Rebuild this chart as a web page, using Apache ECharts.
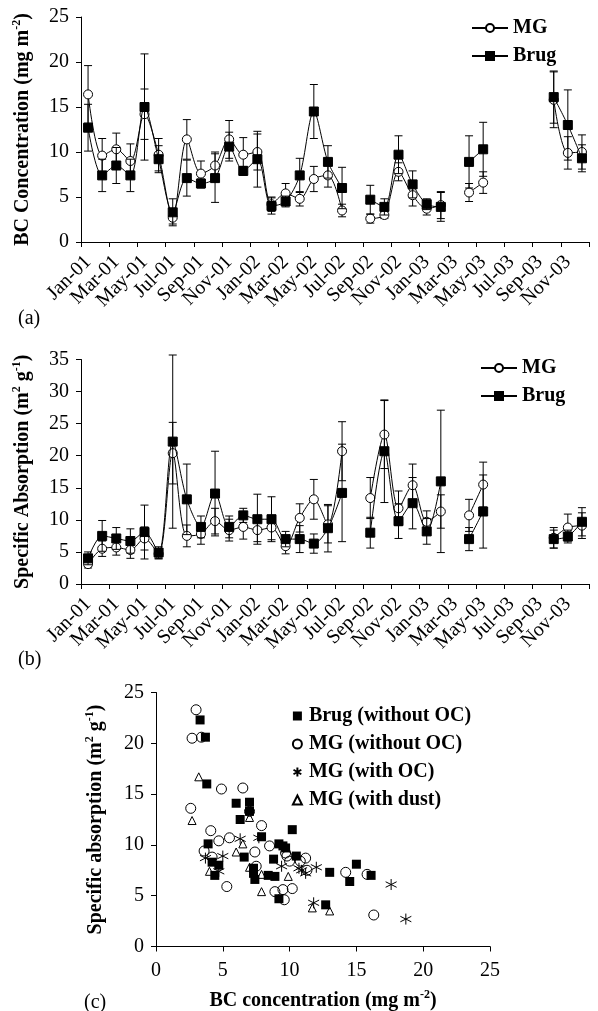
<!DOCTYPE html>
<html><head><meta charset="utf-8">
<script src="https://cdn.jsdelivr.net/npm/echarts@6/dist/echarts.min.js"></script>
<style>html,body{margin:0;padding:0;background:#fff}#c{width:598px;height:1011px}</style>
</head><body><div id="c"></div>
<script>
// ---------- data ----------
const months = ['Jan-01','Feb-01','Mar-01','Apr-01','May-01','Jun-01','Jul-01','Aug-01','Sep-01','Oct-01','Nov-01','Dec-01',
  'Jan-02','Feb-02','Mar-02','Apr-02','May-02','Jun-02','Jul-02','Aug-02','Sep-02','Oct-02','Nov-02','Dec-02',
  'Jan-03','Feb-03','Mar-03','Apr-03','May-03','Jun-03','Jul-03','Aug-03','Sep-03','Oct-03','Nov-03','Dec-03'];

// (a) BC concentration (mg m-2)
const mgBC      = [16.4,9.6,10.3,9.0,14.2,9.7,2.7,11.4,7.6,8.5,11.4,9.7, 10.0,4.2,5.4,4.8,7.0,7.4,3.5,null,2.6,3.0,7.8,5.2, 3.7,4.1,null,5.5,6.6,null,null,null,null,15.8,9.9,10.0];
const mgBCErr   = [3.2,1.9,1.8,1.9,2.8,1.8,0.7,2.2,1.4,1.5,2.1,1.9, 2.0,0.8,1.1,0.8,1.4,1.3,0.7,null,0.5,0.4,1.0,1.2, 0.7,1.5,null,1.0,1.2,null,null,null,null,3.1,1.8,1.9];
const brugBC    = [12.7,7.4,8.5,7.4,15.0,9.2,3.3,7.1,6.5,7.1,10.6,7.9, 9.2,4.0,4.5,7.4,14.5,8.9,6.0,null,4.7,3.9,9.7,6.4, 4.2,3.9,null,8.9,10.3,null,null,null,null,16.1,13.0,9.3];
const brugBCErr = [2.6,1.8,2.0,1.8,5.9,1.5,1.5,2.0,0.5,2.7,1.6,0.5, 3.1,0.9,0.6,1.9,3.0,1.8,2.3,null,1.6,0.9,2.1,1.5, 0.6,1.6,null,2.9,3.0,null,null,null,null,2.9,3.9,1.5];

// (b) specific absorption (m2 g-1)
const mgSA      = [3.1,5.5,5.7,5.3,7.1,4.7,20.4,7.5,7.8,9.8,8.4,8.9, 8.4,8.8,5.9,10.3,13.2,9.3,20.7,null,13.4,23.3,11.8,15.4, 9.7,11.3,null,10.7,15.5,null,null,null,null,7.2,8.8,9.1];
const mgSAErr   = [0.6,1.2,1.2,1.3,1.8,0.8,4.8,1.7,1.6,2.0,1.7,1.9, 1.8,1.9,1.2,2.2,3.1,2.9,4.6,null,3.2,5.3,2.7,3.3, 1.7,2.6,null,2.5,3.5,null,null,null,null,1.6,2.1,2.0];
const brugSA    = [4.0,7.5,7.1,6.7,8.1,4.9,22.2,13.2,8.9,14.1,8.9,10.7, 10.1,10.1,7.0,7.0,6.3,8.7,14.2,null,8.0,20.7,9.8,12.6, 8.2,16.0,null,7.0,11.3,null,null,null,null,7.0,7.4,9.7];
const brugSAErr = [1.0,2.4,1.7,1.9,4.2,0.9,13.5,5.5,1.7,6.6,1.7,1.1, 3.9,3.5,1.2,2.1,1.5,3.7,7.6,null,2.4,8.0,2.7,4.0, 2.0,11.1,null,1.8,5.7,null,null,null,null,1.4,1.0,2.2];

// (c) scatter: [BC concentration, specific absorption]
const brugNoOC = [[3.3,22.3],[3.7,20.6],[3.8,16.0],[6.0,14.1],[7.0,14.2],[6.3,12.5],[7.0,13.3],[10.2,11.5],[7.9,10.8],[3.9,10.1],
  [9.2,10.1],[9.7,9.7],[9.5,9.9],[6.6,8.8],[10.5,8.9],[4.2,8.3],[8.8,8.6],[4.7,8.0],[4.4,7.0],[7.3,7.7],[7.3,7.2],[7.4,6.6],
  [8.4,7.0],[8.9,6.9],[9.2,4.7],[13.0,7.3],[12.7,4.1],[14.5,6.4],[15.0,8.1],[16.1,7.0]];
const mgNoOC = [[3.0,23.3],[2.7,20.5],[3.4,20.6],[4.9,15.5],[6.5,15.6],[2.6,13.6],[7.0,13.3],[7.9,11.9],[4.1,11.4],[4.7,10.4],
  [5.5,10.7],[3.6,9.4],[7.4,9.3],[8.5,9.9],[4.2,8.8],[9.7,9.2],[10.0,8.4],[11.2,8.7],[11.3,7.5],[7.5,7.9],[5.3,5.9],[8.9,5.4],
  [9.5,5.6],[10.2,5.7],[9.6,4.6],[14.2,7.3],[15.8,7.1],[16.3,3.1],[9.8,8.9],[10.8,8.4]];
const mgWithOC = [[6.3,10.6],[7.7,10.7],[3.7,8.7],[5.0,8.9],[4.7,7.4],[9.4,7.9],[10.7,7.7],[10.9,7.5],[11.2,7.2],[12.0,7.8],
  [11.8,4.3],[17.6,6.1],[18.7,2.7]];
const mgWithDust = [[3.2,16.7],[2.7,12.4],[7.0,12.7],[6.5,10.1],[6.0,9.3],[4.0,7.4],[7.0,7.8],[7.9,7.1],[7.9,5.4],[9.9,6.9],
  [11.7,3.8],[13.0,3.5]];

const yTicksA = [0,25,5], yTicksB = [0,35,5], xTicksC = [0,25,5], yTicksC = [0,25,5];

// ---------- helpers ----------
const SERIF = "'Liberation Serif','Times New Roman',serif";
const BLACK = '#000';
function errData(vals, errs) {
  const out = [];
  vals.forEach((v, i) => { if (v != null && errs[i] != null) out.push([i, v - errs[i], v + errs[i]]); });
  return out;
}
function errRender(params, api) {
  const x = api.value(0), lo = api.value(1), hi = api.value(2);
  const a = api.coord([x, lo]), b = api.coord([x, hi]);
  const w = 4, st = {stroke: BLACK, lineWidth: 1, fill: null};
  return {type: 'group', children: [
    {type: 'line', shape: {x1: a[0], y1: a[1], x2: b[0], y2: b[1]}, style: st},
    {type: 'line', shape: {x1: a[0]-w, y1: a[1], x2: a[0]+w, y2: a[1]}, style: st},
    {type: 'line', shape: {x1: b[0]-w, y1: b[1], x2: b[0]+w, y2: b[1]}, style: st}
  ]};
}
const sup = {
  b: {fontFamily: SERIF, fontSize: 20, fontWeight: 'bold', color: BLACK, lineHeight: 24},
  s: {fontFamily: SERIF, fontSize: 12, fontWeight: 'bold', color: BLACK, lineHeight: 12, verticalAlign: 'top'}
};
const axisLine = {show: true, lineStyle: {color: BLACK, width: 1}};
const axisTick = {show: true, length: 5, lineStyle: {color: BLACK, width: 1}};
const tickLabel = {color: BLACK, fontFamily: SERIF, fontSize: 20};

function monthAxis(gridIndex) {
  return {
    type: 'category', gridIndex, data: months, boundaryGap: true,
    axisLine, axisTick: Object.assign({interval: 1}, axisTick),
    axisLabel: Object.assign({interval: 1, rotate: 45, margin: 17}, tickLabel),
    splitLine: {show: false}
  };
}
function valAxis(gridIndex, t, name, gap) {
  return {
    type: 'value', gridIndex, min: t[0], max: t[1], interval: t[2],
    axisLine, axisTick, axisLabel: Object.assign({margin: 12}, tickLabel),
    splitLine: {show: false},
    name, nameLocation: 'middle', nameGap: gap,
    nameTextStyle: {rich: sup}
  };
}
function lineSeries(name, data, xi, yi, mg) {
  return {
    type: 'line', name, data, xAxisIndex: xi, yAxisIndex: yi, smooth: 0.3, connectNulls: false,
    symbol: mg ? 'circle' : 'rect', symbolSize: 9, z: mg ? 3 : 5,
    itemStyle: mg ? {color: '#fff', borderColor: BLACK, borderWidth: 1, opacity: 1} : {color: BLACK, borderColor: BLACK, borderWidth: 1, opacity: 1},
    lineStyle: {color: BLACK, width: 1}
  };
}
function errSeries(data, xi, yi, z) {
  return {type: 'custom', data, xAxisIndex: xi, yAxisIndex: yi, renderItem: errRender,
    encode: {x: 0, y: [1, 2]}, z, silent: true};
}
const asterisk = 'path://M5,0L5,10M0.67,2.5L9.33,7.5M0.67,7.5L9.33,2.5';

const option = {
  animation: false,
  backgroundColor: '#fff',
  textStyle: {fontFamily: SERIF},
  title: [
    {text: '(a)', left: 13, top: 304, textStyle: {fontFamily: SERIF, fontSize: 20, fontWeight: 'normal', color: BLACK}},
    {text: '(b)', left: 13, top: 645, textStyle: {fontFamily: SERIF, fontSize: 20, fontWeight: 'normal', color: BLACK}},
    {text: '(c)', left: 79, top: 988, textStyle: {fontFamily: SERIF, fontSize: 20, fontWeight: 'normal', color: BLACK}}
  ],
  grid: [
    {left: 81, top: 17, width: 508, height: 225, containLabel: false, outerBoundsMode: 'none'},
    {left: 81, top: 359.5, width: 508, height: 224.5, containLabel: false, outerBoundsMode: 'none'},
    {left: 156, top: 692.5, width: 334, height: 254, containLabel: false, outerBoundsMode: 'none'}
  ],
  xAxis: [
    monthAxis(0), monthAxis(1),
    {type: 'value', gridIndex: 2, min: xTicksC[0], max: xTicksC[1], interval: xTicksC[2],
      axisLine, axisTick, axisLabel: Object.assign({margin: 14}, tickLabel), splitLine: {show: false},
      name: '{b|BC concentration (mg m}{s|-2}{b|)}', nameLocation: 'middle', nameGap: 42,
      nameTextStyle: {rich: sup}}
  ],
  yAxis: [
    valAxis(0, yTicksA, '{b|BC Concentration (mg m}{s|-2}{b|)}', 46),
    valAxis(1, yTicksB, '{b|Specific Absorption (m}{s|2}{b| g}{s|-1}{b|)}', 46),
    valAxis(2, yTicksC, '{b|Specific absorption (m}{s|2}{b| g}{s|-1}{b|)}', 48)
  ],
  legend: [
    {data: ['MG', 'Brug'], orient: 'vertical', left: 466, top: 13, itemWidth: 36, itemHeight: 10, itemGap: 8,
      selectedMode: false, textStyle: {fontFamily: SERIF, fontSize: 20, fontWeight: 'bold', color: BLACK}},
    {data: ['MG', 'Brug'], orient: 'vertical', left: 475, top: 353, itemWidth: 36, itemHeight: 10, itemGap: 8,
      selectedMode: false, textStyle: {fontFamily: SERIF, fontSize: 20, fontWeight: 'bold', color: BLACK}},
    {data: ['Brug (without OC)', 'MG (without OC)', 'MG (with OC)', 'MG (with dust)'], orient: 'vertical',
      left: 286, top: 701, itemWidth: 9, itemHeight: 9, itemGap: 8, selectedMode: false,
      textStyle: {fontFamily: SERIF, fontSize: 20, fontWeight: 'bold', color: BLACK, padding: [0, 0, 0, 2]}}
  ],
  series: [
    errSeries(errData(mgBC, mgBCErr), 0, 0, 2),
    lineSeries('MG', mgBC, 0, 0, true),
    errSeries(errData(brugBC, brugBCErr), 0, 0, 4),
    lineSeries('Brug', brugBC, 0, 0, false),
    errSeries(errData(mgSA, mgSAErr), 1, 1, 2),
    lineSeries('MG', mgSA, 1, 1, true),
    errSeries(errData(brugSA, brugSAErr), 1, 1, 4),
    lineSeries('Brug', brugSA, 1, 1, false),
    {type: 'scatter', name: 'Brug (without OC)', data: brugNoOC, xAxisIndex: 2, yAxisIndex: 2, symbol: 'rect', symbolSize: 9,
      itemStyle: {color: BLACK, opacity: 1}},
    {type: 'scatter', name: 'MG (without OC)', data: mgNoOC, xAxisIndex: 2, yAxisIndex: 2, symbol: 'circle', symbolSize: 10,
      itemStyle: {color: 'rgba(255,255,255,0)', borderColor: BLACK, borderWidth: 1, opacity: 1}},
    {type: 'scatter', name: 'MG (with OC)', data: mgWithOC, xAxisIndex: 2, yAxisIndex: 2, symbol: asterisk, symbolSize: 11,
      itemStyle: {color: 'none', borderColor: BLACK, borderWidth: 1, opacity: 1}},
    {type: 'scatter', name: 'MG (with dust)', data: mgWithDust, xAxisIndex: 2, yAxisIndex: 2, symbol: 'triangle', symbolSize: 8,
      itemStyle: {color: 'rgba(255,255,255,0)', borderColor: BLACK, borderWidth: 1, opacity: 1}}
  ]
};
const chart = echarts.init(document.getElementById('c'), null, {renderer: 'canvas'});
chart.setOption(option);
</script>
</body></html>
